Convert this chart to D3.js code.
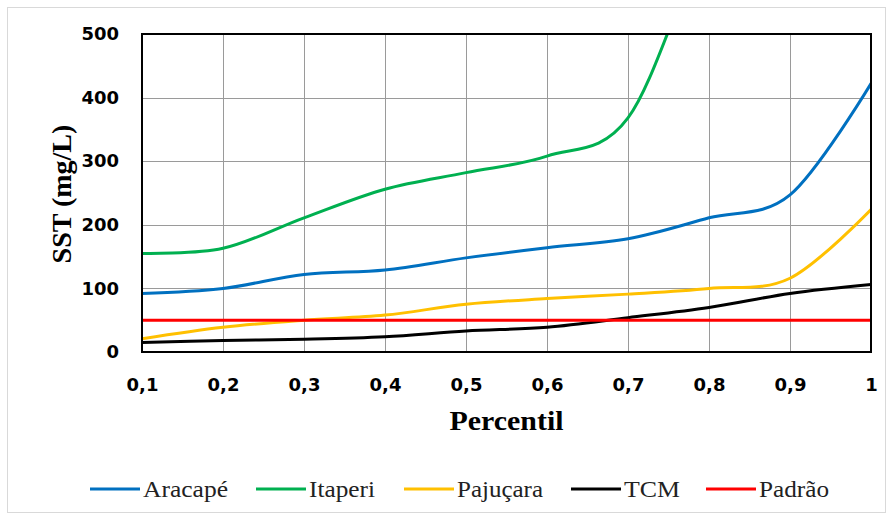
<!DOCTYPE html>
<html>
<head>
<meta charset="utf-8">
<script src="https://cdn.jsdelivr.net/npm/d3@7"></script>
<style>
  html, body { margin: 0; padding: 0; background: #ffffff; }
  svg { display: block; }
</style>
</head>
<body>
<svg id="chart" width="892" height="519"></svg>
<script>
// ---- data ----
const percentis = [0.1, 0.2, 0.3, 0.4, 0.5, 0.6, 0.7, 0.8, 0.9, 1.0];
const aracape   = [92, 100, 122, 129, 148, 164, 178, 211, 247, 422];
const itaperi   = [155, 163, 211, 256, 282, 308, 368, 650, 780, 900];
const pajucara  = [21, 39, 50, 58, 75, 84, 91, 100, 116, 224];
const tcm       = [15, 18, 20, 24, 33, 39, 54, 70, 92, 106];
const padrao    = [50, 50, 50, 50, 50, 50, 50, 50, 50, 50];
const seriesNames  = ["Aracapé", "Itaperi", "Pajuçara", "TCM", "Padrão"];
const seriesColors = ["#0070C0", "#00B050", "#FFC000", "#000000", "#FF0000"];
const xTicks = [0.1, 0.2, 0.3, 0.4, 0.5, 0.6, 0.7, 0.8, 0.9, 1.0];
const yTicks = [0, 100, 200, 300, 400, 500];
const xTitle = "Percentil";
const yTitle = "SST (mg/L)";

const seriesValues = [aracape, itaperi, pajucara, tcm, padrao];
const series = seriesNames.map((name, i) => ({
  name, color: seriesColors[i],
  points: percentis.map((p, j) => ({ x: p, y: seriesValues[i][j] }))
}));

// ---- layout ----
const svg = d3.select("#chart");
const plot = { left: 142, right: 871, top: 34, bottom: 352 };

// outer border
svg.append("rect")
  .attr("x", 7.5).attr("y", 7.5)
  .attr("width", 878).attr("height", 505)
  .attr("fill", "#ffffff").attr("stroke", "#d9d9d9").attr("stroke-width", 1);

const x = d3.scaleLinear().domain([0.1, 1.0]).range([plot.left, plot.right]);
const y = d3.scaleLinear().domain([0, 500]).range([plot.bottom, plot.top]);

// gridlines
const grid = svg.append("g");
grid.selectAll("line.v").data(xTicks.slice(1, -1)).enter().append("line")
  .attr("x1", d => Math.round(x(d)) + 0.5).attr("x2", d => Math.round(x(d)) + 0.5)
  .attr("y1", plot.top).attr("y2", plot.bottom)
  .attr("stroke", "#9a9a9a").attr("stroke-width", 1);
grid.selectAll("line.h").data(yTicks.slice(1, -1)).enter().append("line")
  .attr("x1", plot.left).attr("x2", plot.right)
  .attr("y1", d => Math.round(y(d)) + 0.5).attr("y2", d => Math.round(y(d)) + 0.5)
  .attr("stroke", "#9a9a9a").attr("stroke-width", 1);

// clip
svg.append("defs").append("clipPath").attr("id", "clip")
  .append("rect").attr("x", plot.left).attr("y", plot.top)
  .attr("width", plot.right - plot.left).attr("height", plot.bottom - plot.top);

const line = d3.line()
  .x(d => x(d.x)).y(d => y(d.y))
  .curve(d3.curveCardinal.tension(0));

svg.append("g").attr("clip-path", "url(#clip)")
  .selectAll("path").data(series).enter().append("path")
  .attr("d", d => line(d.points))
  .attr("fill", "none")
  .attr("stroke", d => d.color)
  .attr("stroke-width", 3)
  .attr("stroke-linecap", "round");

// frame
svg.append("rect")
  .attr("x", plot.left).attr("y", plot.top)
  .attr("width", plot.right - plot.left).attr("height", plot.bottom - plot.top)
  .attr("fill", "none").attr("stroke", "#000").attr("stroke-width", 2);

// axes (tick labels via d3 axes)
const tickFont = "'DejaVu Sans', Verdana, sans-serif";
const yAxis = svg.append("g")
  .attr("transform", `translate(${plot.left},0)`)
  .call(d3.axisLeft(y).tickValues(yTicks).tickSize(0).tickPadding(23).tickFormat(d3.format("d")));
yAxis.select(".domain").remove();
yAxis.selectAll("text")
  .attr("font-family", tickFont).attr("font-weight", "bold")
  .attr("font-size", 18).attr("fill", "#000");

const fmtX = d => (d === 1 ? "1" : d3.format(".1f")(d).replace(".", ","));
const xAxis = svg.append("g")
  .attr("transform", `translate(0,${plot.bottom})`)
  .call(d3.axisBottom(x).tickValues(xTicks).tickSize(0).tickPadding(26).tickFormat(fmtX));
xAxis.select(".domain").remove();
xAxis.selectAll("text")
  .attr("font-family", tickFont).attr("font-weight", "bold")
  .attr("font-size", 18).attr("fill", "#000");

// axis titles
const titleFont = "'Liberation Serif', 'Times New Roman', serif";
svg.append("text")
  .attr("x", (plot.left + plot.right) / 2).attr("y", 430)
  .attr("text-anchor", "middle")
  .attr("font-family", titleFont).attr("font-weight", "bold").attr("font-size", 28)
  .attr("textLength", 114).attr("lengthAdjust", "spacingAndGlyphs")
  .text(xTitle);
svg.append("text")
  .attr("transform", "translate(71,194) rotate(-90)")
  .attr("text-anchor", "middle")
  .attr("font-family", titleFont).attr("font-weight", "bold").attr("font-size", 28)
  .text(yTitle);

// legend
const legendX = [90, 256, 404, 571, 706];
const legendW = [85, 66, 86, 56, 70];
const leg = svg.append("g");
series.forEach((s, i) => {
  leg.append("line")
    .attr("x1", legendX[i]).attr("x2", legendX[i] + 50)
    .attr("y1", 489).attr("y2", 489)
    .attr("stroke", s.color).attr("stroke-width", 3);
  leg.append("text")
    .attr("x", legendX[i] + 53).attr("y", 497)
    .attr("font-family", titleFont).attr("font-size", 24).attr("fill", "#222")
    .attr("textLength", legendW[i]).attr("lengthAdjust", "spacingAndGlyphs")
    .text(s.name);
});
</script>
</body>
</html>
